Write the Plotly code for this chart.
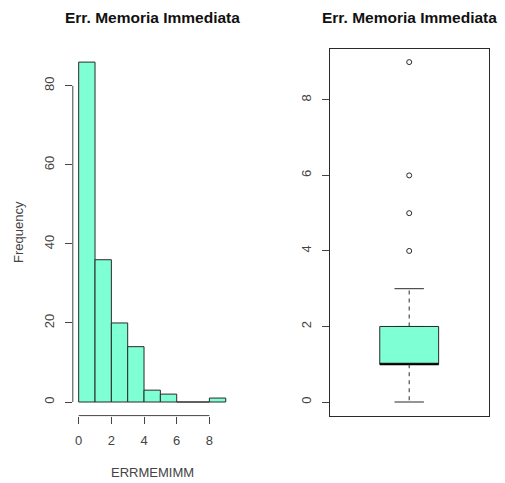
import plotly.graph_objects as go

# Histogram of ERRMEMIMM (bin edges 0..9, width 1)
bin_edges = [0, 1, 2, 3, 4, 5, 6, 7, 8, 9]
counts = [86, 36, 20, 14, 3, 2, 0, 0, 1]
hist_xticks = [0, 2, 4, 6, 8]
hist_yticks = [0, 20, 40, 60, 80]

# Boxplot summary of the same variable
box_lower_whisker = 0
box_q1 = 1
box_median = 1
box_q3 = 2
box_upper_whisker = 3
box_outliers = [4, 5, 6, 9]
box_yticks = [0, 2, 4, 6, 8]

title_text = "Err. Memoria Immediata"
xlab = "ERRMEMIMM"
ylab = "Frequency"

FILL = "#7FFFD4"
INK = "#2a2a2a"
TICK_COL = "#444444"
FONT = "Liberation Sans, Arial, sans-serif"

W, H = 505, 483
left_dom = [72.8 / W, 231.6 / W]
right_dom = [329.7 / W, 488.7 / W]
y_dom = [1 - 415.6 / H, 1 - 48.5 / H]

centers = [(a + b) / 2 for a, b in zip(bin_edges[:-1], bin_edges[1:])]
widths = [b - a for a, b in zip(bin_edges[:-1], bin_edges[1:])]

fig = go.Figure()

fig.add_trace(go.Bar(
    x=centers, y=counts, width=widths,
    marker=dict(color=FILL, line=dict(color=INK, width=1)),
    xaxis="x", yaxis="y", showlegend=False, hoverinfo="skip",
))

# Box body (no whiskers; drawn separately in R style)
bx = 1.0
box_w = 0.4
cap_w = 0.2
fig.add_trace(go.Box(
    x=[bx], q1=[box_q1], median=[box_median], q3=[box_q3],
    lowerfence=[box_q1], upperfence=[box_q3],
    width=box_w, fillcolor=FILL, line=dict(color=INK, width=1),
    boxpoints=False, xaxis="x2", yaxis="y2", showlegend=False, hoverinfo="skip",
))
# thick median
fig.add_trace(go.Scatter(
    x=[bx - box_w / 2, bx + box_w / 2], y=[box_median, box_median],
    mode="lines", line=dict(color="black", width=2.2),
    xaxis="x2", yaxis="y2", showlegend=False, hoverinfo="skip",
))
# dashed whiskers
for a, b in [(box_q3, box_upper_whisker), (box_q1, box_lower_whisker)]:
    fig.add_trace(go.Scatter(
        x=[bx, bx], y=[a, b], mode="lines",
        line=dict(color=INK, width=1, dash="4px,4px"),
        xaxis="x2", yaxis="y2", showlegend=False, hoverinfo="skip",
    ))
# whisker caps
for v in [box_upper_whisker, box_lower_whisker]:
    fig.add_trace(go.Scatter(
        x=[bx - cap_w / 2, bx + cap_w / 2], y=[v, v], mode="lines",
        line=dict(color=INK, width=1),
        xaxis="x2", yaxis="y2", showlegend=False, hoverinfo="skip",
    ))
# outliers
fig.add_trace(go.Scatter(
    x=[bx] * len(box_outliers), y=box_outliers, mode="markers",
    marker=dict(symbol="circle-open", size=5, color=INK, line=dict(width=1)),
    xaxis="x2", yaxis="y2", showlegend=False, hoverinfo="skip",
))

tickfont = dict(family=FONT, size=13, color=TICK_COL)

def rng(lo, hi):
    pad = (hi - lo) * 0.04
    return [lo - pad, hi + pad]

fig.update_layout(
    width=W, height=H,
    margin=dict(l=0, r=0, t=0, b=0),
    paper_bgcolor="white", plot_bgcolor="white",
    xaxis=dict(domain=left_dom, anchor="y", range=rng(bin_edges[0], bin_edges[-1]),
               tickmode="array", tickvals=hist_xticks, ticks="outside", ticklen=7,
               tickcolor=TICK_COL, tickfont=tickfont, showgrid=False, zeroline=False,
               showline=False, ticklabelstandoff=6),
    yaxis=dict(domain=y_dom, anchor="x", range=rng(0, max(counts)),
               tickmode="array", tickvals=hist_yticks, ticks="outside", ticklen=7,
               tickcolor=TICK_COL, tickfont=tickfont, tickangle=-90, showgrid=False,
               zeroline=False, showline=False, ticklabelstandoff=6),
    xaxis2=dict(domain=right_dom, anchor="y2", range=[0.46, 1.54], showticklabels=False,
                ticks="", showgrid=False, zeroline=False, showline=True, mirror=True,
                linecolor=INK, linewidth=1),
    yaxis2=dict(domain=y_dom, anchor="x2", range=rng(box_lower_whisker, max(box_outliers)),
                tickmode="array", tickvals=box_yticks, ticks="outside", ticklen=7,
                tickcolor=TICK_COL, tickfont=tickfont, tickangle=-90, showgrid=False,
                zeroline=False, showline=True, mirror=True, linecolor=INK, linewidth=1,
                ticklabelstandoff=6),
    shapes=[
        # R-style axis lines spanning the tick range only
        dict(type="line", xref="x", yref="y domain", x0=min(hist_xticks), x1=max(hist_xticks),
             y0=0, y1=0, line=dict(color=TICK_COL, width=1)),
        dict(type="line", xref="x domain", yref="y", x0=0, x1=0,
             y0=min(hist_yticks), y1=max(hist_yticks), line=dict(color=TICK_COL, width=1)),
    ],
    annotations=[
        dict(text="<b>%s</b>" % title_text, x=sum(left_dom) / 2, y=1 - 17 / H,
             xref="paper", yref="paper", showarrow=False, xanchor="center", yanchor="middle",
             font=dict(family=FONT, size=15.5, color="#111111")),
        dict(text="<b>%s</b>" % title_text, x=sum(right_dom) / 2, y=1 - 17 / H,
             xref="paper", yref="paper", showarrow=False, xanchor="center", yanchor="middle",
             font=dict(family=FONT, size=15.5, color="#111111")),
        dict(text=xlab, x=sum(left_dom) / 2, y=1 - 472 / H, xref="paper", yref="paper",
             showarrow=False, xanchor="center", yanchor="middle",
             font=dict(family=FONT, size=13, color=TICK_COL)),
        dict(text=ylab, x=19 / W, y=1 - 232 / H, xref="paper", yref="paper",
             showarrow=False, xanchor="center", yanchor="middle", textangle=-90,
             font=dict(family=FONT, size=13, color=TICK_COL)),
    ],
)

fig.write_html("out.html")
